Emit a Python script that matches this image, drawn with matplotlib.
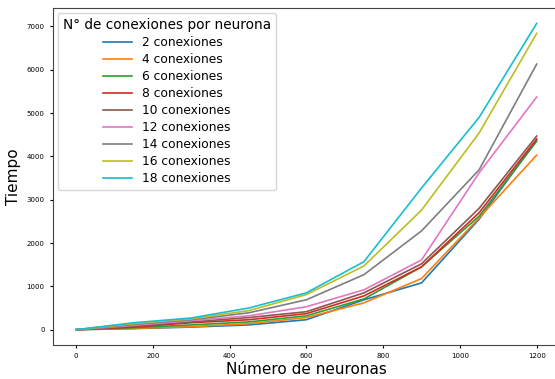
import matplotlib.pyplot as plt

neuronas = [0, 150, 300, 450, 600, 750, 900, 1050, 1200]

# tiempos por numero de conexiones
t2 = [0, 25, 60, 110, 230, 690, 1080, 2550, 4380]
t4 = [0, 30, 70, 140, 280, 620, 1180, 2580, 4030]
t6 = [0, 45, 110, 180, 320, 710, 1450, 2620, 4350]
t8 = [0, 60, 160, 230, 370, 780, 1450, 2700, 4400]
t10 = [0, 80, 180, 280, 415, 850, 1520, 2800, 4470]
t12 = [0, 100, 210, 320, 530, 920, 1610, 3620, 5370]
t14 = [0, 120, 230, 390, 690, 1270, 2280, 3690, 6130]
t16 = [0, 140, 250, 440, 810, 1470, 2760, 4540, 6840]
t18 = [0, 160, 270, 500, 850, 1570, 3270, 4900, 7070]

series = [t2, t4, t6, t8, t10, t12, t14, t16, t18]
etiquetas = ['2 conexiones', '4 conexiones', '6 conexiones', '8 conexiones',
             '10 conexiones', '12 conexiones', '14 conexiones', '16 conexiones',
             '18 conexiones']
colores = ['C0', 'C1', 'C2', 'C3', 'C5', 'C6', 'C7', 'C8', 'C9']

fig = plt.figure(figsize=(5.55, 3.79), dpi=100)
ax = fig.add_axes([0.0955, 0.0897, 0.913, 0.889])

for t, lab, c in zip(series, etiquetas, colores):
    ax.plot(neuronas, t, label=lab, color=c, linewidth=1.2)

ax.set_xlabel('Número de neuronas', fontsize=11, labelpad=2)
ax.set_ylabel('Tiempo', fontsize=11, labelpad=4)
ax.tick_params(labelsize=5, length=2.5)
ax.set_xticks([0, 200, 400, 600, 800, 1000, 1200])
ax.set_yticks([0, 1000, 2000, 3000, 4000, 5000, 6000, 7000])
for s in ax.spines.values():
    s.set_color('#444444')

leg = ax.legend(title='N° de conexiones por neurona', fontsize=8.8,
                title_fontsize=9.8, loc='upper left', labelspacing=0.33,
                handlelength=2.4, borderaxespad=0.4)

fig.savefig('out.png')
